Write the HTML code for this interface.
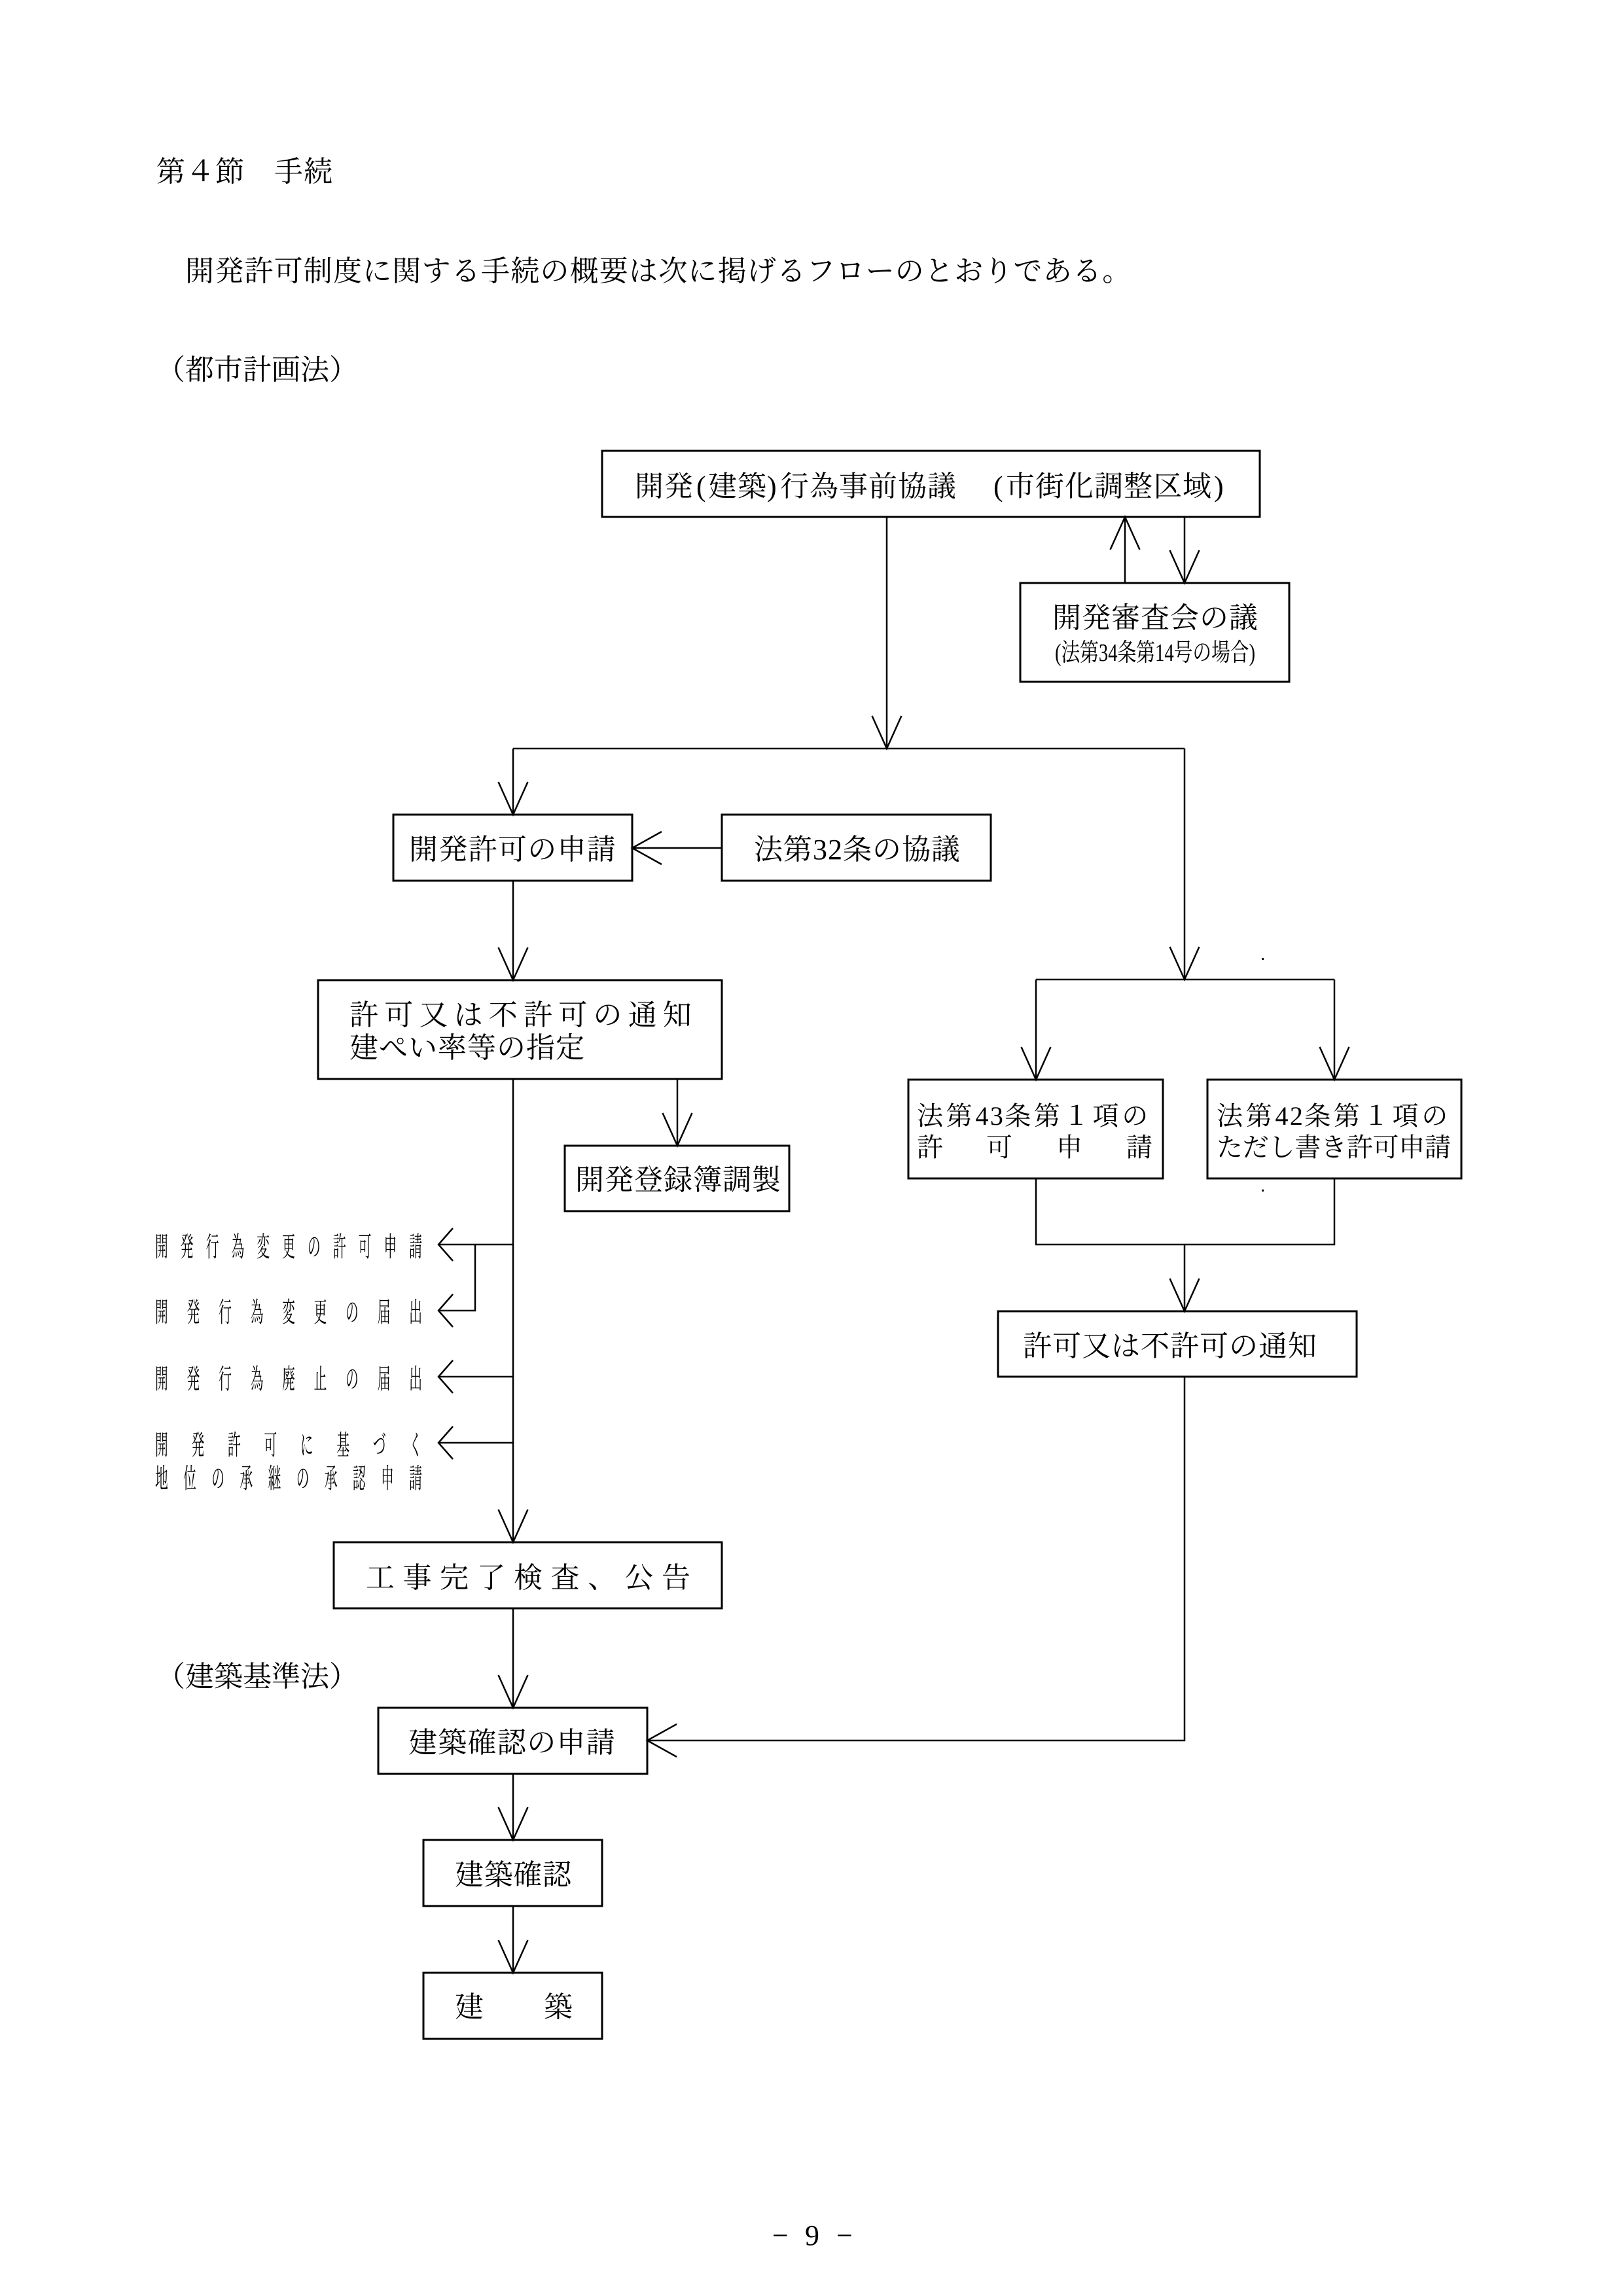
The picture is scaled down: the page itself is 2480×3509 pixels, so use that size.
<!DOCTYPE html>
<html>
<head>
<meta charset="utf-8">
<style>
  html, body { margin: 0; padding: 0; background: #fff; }
  svg { display: block; }
  text { font-family: "Liberation Serif", "Noto Serif CJK JP", "Noto Serif CJK SC", serif; fill: #000; }
</style>
</head>
<body>
<svg width="2480" height="3509" viewBox="0 0 2480 3509" xmlns="http://www.w3.org/2000/svg">
  <rect x="0" y="0" width="2480" height="3509" fill="#fff"/>

  <!-- Header texts -->
  <text x="239" y="277" font-size="44" letter-spacing="1">第４節　手続</text>
  <text x="283" y="429" font-size="44" letter-spacing="1.2">開発許可制度に関する手続の概要は次に掲げるフローのとおりである。</text>
  <text x="239" y="580" font-size="44">（都市計画法）</text>
  <text x="239" y="2577" font-size="44">（建築基準法）</text>

  <!-- Boxes -->
  <g fill="none" stroke="#000" stroke-width="3">
    <rect x="920" y="689" width="1005" height="101"/>
    <rect x="1559" y="891" width="411" height="151"/>
    <rect x="601" y="1245" width="365" height="101"/>
    <rect x="1103" y="1245" width="411" height="101"/>
    <rect x="486" y="1498" width="617" height="151"/>
    <rect x="863" y="1751" width="343" height="100"/>
    <rect x="1388" y="1650" width="389" height="151"/>
    <rect x="1845" y="1650" width="388" height="151"/>
    <rect x="1525" y="2004" width="548" height="100"/>
    <rect x="510" y="2357" width="593" height="101"/>
    <rect x="578" y="2610" width="411" height="101"/>
    <rect x="647" y="2812" width="273" height="101"/>
    <rect x="647" y="3015" width="273" height="101"/>
  </g>

  <!-- Connector lines -->
  <g fill="none" stroke="#000" stroke-width="2.5">
    <!-- top box down to branch -->
    <line x1="1355" y1="790" x2="1355" y2="1144"/>
    <!-- up / down arrows to review board -->
    <line x1="1719" y1="891" x2="1719" y2="790"/>
    <line x1="1810" y1="790" x2="1810" y2="891"/>
    <!-- main branch horizontal -->
    <line x1="784" y1="1144" x2="1810" y2="1144"/>
    <!-- left column -->
    <line x1="784" y1="1144" x2="784" y2="1245"/>
    <line x1="1103" y1="1296" x2="966" y2="1296"/>
    <line x1="784" y1="1346" x2="784" y2="1498"/>
    <line x1="1035" y1="1649" x2="1035" y2="1751"/>
    <line x1="784" y1="1649" x2="784" y2="2357"/>
    <!-- side branches -->
    <line x1="784" y1="1902" x2="670" y2="1902"/>
    <polyline points="726,1902 726,2003 670,2003"/>
    <line x1="784" y1="2104" x2="670" y2="2104"/>
    <line x1="784" y1="2205" x2="670" y2="2205"/>
    <!-- lower left chain -->
    <line x1="784" y1="2458" x2="784" y2="2610"/>
    <line x1="784" y1="2711" x2="784" y2="2812"/>
    <line x1="784" y1="2913" x2="784" y2="3015"/>
    <!-- right column -->
    <line x1="1810" y1="1144" x2="1810" y2="1497"/>
    <line x1="1583" y1="1497" x2="2039" y2="1497"/>
    <line x1="1583" y1="1497" x2="1583" y2="1650"/>
    <line x1="2039" y1="1497" x2="2039" y2="1650"/>
    <polyline points="1583,1801 1583,1902 2039,1902 2039,1801"/>
    <line x1="1810" y1="1902" x2="1810" y2="2004"/>
    <polyline points="1810,2104 1810,2660 989,2660"/>

    <!-- Arrowheads: down -->
    <polyline points="1332.5,1094 1355,1144 1377.5,1094"/>
    <polyline points="1787.5,841 1810,891 1832.5,841"/>
    <polyline points="761.5,1195 784,1245 806.5,1195"/>
    <polyline points="761.5,1448 784,1498 806.5,1448"/>
    <polyline points="1012.5,1701 1035,1751 1057.5,1701"/>
    <polyline points="761.5,2307 784,2357 806.5,2307"/>
    <polyline points="761.5,2560 784,2610 806.5,2560"/>
    <polyline points="761.5,2762 784,2812 806.5,2762"/>
    <polyline points="761.5,2965 784,3015 806.5,2965"/>
    <polyline points="1787.5,1447 1810,1497 1832.5,1447"/>
    <polyline points="1560.5,1600 1583,1650 1605.5,1600"/>
    <polyline points="2016.5,1600 2039,1650 2061.5,1600"/>
    <polyline points="1787.5,1954 1810,2004 1832.5,1954"/>
    <!-- up -->
    <polyline points="1696.5,840 1719,790 1741.5,840"/>
    <!-- left -->
    <polyline points="1011,1271 966,1296 1011,1321"/>
    <polyline points="1034,2635 989,2660 1034,2685"/>
    <!-- side stubby left -->
    <polyline points="692,1877 670,1902 692,1927"/>
    <polyline points="692,1978 670,2003 692,2028"/>
    <polyline points="692,2079 670,2104 692,2129"/>
    <polyline points="692,2180 670,2205 692,2230"/>
  </g>

  <!-- small specks -->
  <rect x="1928" y="1464" width="3" height="3" fill="#000"/>
  <rect x="1928" y="1818" width="3" height="3" fill="#000"/>

  <!-- Box labels -->
  <text font-size="44" y="758" x="970 1015 1064 1082 1127 1172 1192 1237 1282 1327 1372 1417 1518 1537 1582 1627 1672 1717 1762 1807 1855">開発(建築)行為事前協議(市街化調整区域)</text>

  <text x="1608" y="959" font-size="44" letter-spacing="1">開発審査会の議</text>
  <text x="1612" y="1010" font-size="38" textLength="306" lengthAdjust="spacingAndGlyphs">(法第34条第14号の場合)</text>

  <text x="625" y="1313" font-size="44" letter-spacing="1.3">開発許可の申請</text>
  <text x="1152" y="1313" font-size="44" letter-spacing="1">法第32条の協議</text>

  <text x="534" y="1566" font-size="44" letter-spacing="9.2">許可又は不許可の通知</text>
  <text x="534" y="1616" font-size="44" letter-spacing="1">建ぺい率等の指定</text>

  <text x="879" y="1818" font-size="44" letter-spacing="1">開発登録簿調製</text>

  <text font-size="40" y="1719" x="1401 1445.75 1490.5 1512.9 1535.25 1580 1624.75 1669.5 1714.25">法第43条第１項の</text>
  <text font-size="40" y="1767" x="1401 1507 1614 1721">許可申請</text>

  <text font-size="40" y="1719" x="1859 1903.75 1948.5 1970.9 1993.25 2038 2082.75 2127.5 2172.25">法第42条第１項の</text>
  <text x="1859" y="1767" font-size="40" letter-spacing="-0.25">ただし書き許可申請</text>

  <text x="1563" y="2072" font-size="44" letter-spacing="1">許可又は不許可の通知</text>

  <text x="559" y="2426" font-size="44" letter-spacing="12.5">工事完了検査、公告</text>
  <text x="624" y="2678" font-size="44" letter-spacing="1.3">建築確認の申請</text>
  <text x="695" y="2880" font-size="44" letter-spacing="0.7">建築確認</text>
  <text font-size="44" y="3082" x="695 831">建築</text>

  <!-- Side (condensed) labels -->
  <g transform="scale(0.47,1)" font-size="42">
    <text y="1920" x="504.3 586.8 669.6 752.1 834.7 917.4 1000 1082.6 1165.1 1247.9 1330.4">開発行為変更の許可申請</text>
    <text y="2020" x="504.3 607.4 710.9 814.0 917.4 1020.6 1123.8 1227.2 1330.4">開発行為変更の届出</text>
    <text y="2122" x="504.3 607.4 710.9 814.0 917.4 1020.6 1123.8 1227.2 1330.4">開発行為廃止の届出</text>
    <text y="2223" x="504.3 622.3 740.2 858.3 976.4 1094.5 1212.3 1330.4">開発許可に基づく</text>
    <text y="2274" x="504.3 596.0 687.9 779.6 871.5 963.2 1054.9 1146.8 1238.5 1330.4">地位の承継の承認申請</text>
  </g>

  <!-- Page number -->
  <text font-size="44" y="3431" x="1180 1230 1278">−9−</text>
</svg>
</body>
</html>
